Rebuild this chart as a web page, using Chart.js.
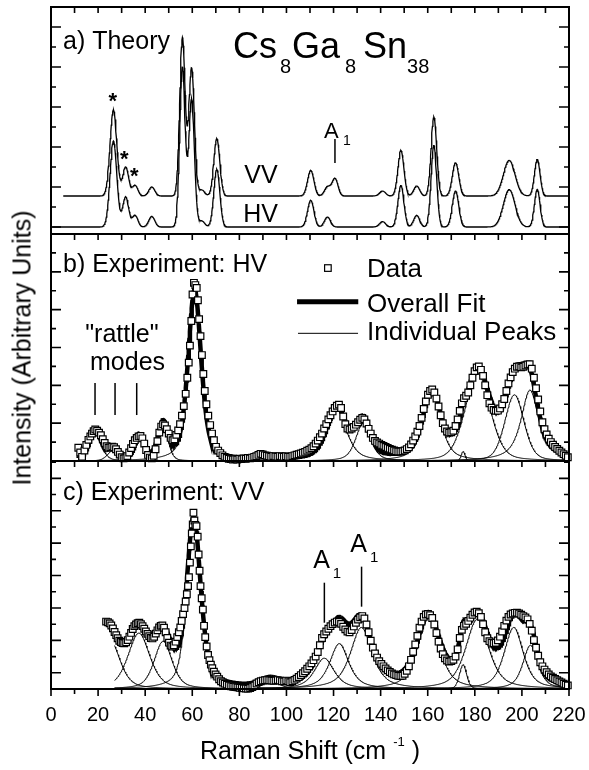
<!DOCTYPE html>
<html><head><meta charset="utf-8">
<script src="https://cdn.jsdelivr.net/npm/chart.js@4.4.1/dist/chart.umd.min.js"></script>
<style>
html,body{margin:0;padding:0;background:#fff;}
#wrap{position:relative;width:589px;height:770px;overflow:hidden;background:#fff;font-family:'Liberation Sans',Arial,Helvetica,sans-serif;}
canvas{position:absolute;left:0;}
#ytitle{position:absolute;left:22px;top:348px;transform:translate(-50%,-50%) rotate(-90deg);font-size:25px;white-space:nowrap;color:#000;line-height:1;}
</style></head><body>
<div id="wrap">
<canvas id="ca" width="589" height="244" style="top:0px;width:589px;height:244px"></canvas>
<canvas id="cb" width="589" height="247" style="top:224px;width:589px;height:247px"></canvas>
<canvas id="cc" width="589" height="319" style="top:451px;width:589px;height:319px"></canvas>
<div id="ytitle">Intensity (Arbitrary Units)</div>
</div>
<script>
// ---------------- DATA ----------------
const xTickValues = [0,20,40,60,80,100,120,140,160,180,200,220];

// a) Theory: calculated mode positions (cm-1) and relative heights
const theoryCenter    = [26.5, 31.7, 35.7, 42.8, 55.8, 59.7, 64.0, 70.4, 110.3, 117.4, 120.6, 140.8, 148.6, 155.3, 162.6, 171.8, 194.6, 206.5];
const theoryHeightVV  = [4.3, 1.45, 0.53, 0.45, 7.9, 6.4, 0.3, 2.87, 1.28, 0.45, 0.87, 0.25, 2.28, 0.5, 3.95, 1.67, 1.78, 1.83];
const theoryHeightHV  = [4.3, 1.5, 0.58, 0.53, 8.0, 6.4, 0.3, 2.9, 1.33, 0.5, 0.0, 0.27, 2.08, 0.58, 4.08, 1.8, 1.87, 1.88];
const theoryHalfWidth = [1.7, 1.5, 1.4, 1.5, 1.35, 1.4, 1.5, 1.5, 1.6, 1.5, 1.5, 1.5, 1.5, 1.5, 1.4, 1.6, 2.9, 1.4];
const theoryOffsetVV  = 1.55;

// b) Experiment HV: measured data
const shiftHV = [
 11.6,12.4,13.2,14.2,15.0,15.9,16.7,17.4,18.1,18.8,
 19.6,20.4,21.2,22.0,22.8,23.6,24.4,25.2,26.0,26.8,
 27.6,28.4,29.2,30.0,30.8,31.6,32.4,33.2,34.0,34.8,
 35.6,36.4,37.2,38.0,38.8,39.6,40.4,41.2,42.0,42.8,
 43.6,44.4,45.2,46.0,46.8,47.6,48.4,49.2,50.0,50.8,
 51.6,52.4,53.2,54.0,54.8,55.6,56.4,57.2,57.9,58.5,
 59.0,59.6,60.1,60.7,61.3,61.9,62.4,62.9,63.5,64.1,
 64.7,65.3,66.0,66.8,67.6,68.4,69.2,70.1,71.0,71.9,
 72.8,73.7,74.6,75.5,76.4,77.3,78.2,79.1,80.0,80.9,
 81.8,82.7,83.6,84.5,85.4,86.3,87.2,88.1,89.0,89.9,
 90.8,91.7,92.6,93.5,94.4,95.3,96.2,97.1,98.0,98.9,
 99.8,100.7,101.6,102.5,103.4,104.3,105.2,106.1,107.0,107.9,
 108.8,109.7,110.6,111.5,112.4,113.3,114.2,115.1,116.0,116.9,
 117.8,118.7,119.6,120.5,121.4,122.3,123.2,124.1,125.0,125.9,
 126.8,127.7,128.6,129.5,130.4,131.3,132.2,133.1,134.0,134.9,
 135.8,136.7,137.6,138.5,139.4,140.3,141.2,142.1,143.0,143.9,
 144.8,145.7,146.6,147.5,148.4,149.3,150.2,151.1,152.0,152.9,
 153.8,154.7,155.6,156.5,157.4,158.3,159.2,160.1,161.0,161.9,
 162.8,163.7,164.6,165.5,166.4,167.3,168.2,169.1,170.0,170.9,
 171.8,172.7,173.6,174.5,175.4,176.3,177.2,178.1,179.0,179.9,
 180.8,181.7,182.6,183.5,184.4,185.3,186.2,187.1,188.0,188.9,
 189.8,190.7,191.6,192.5,193.4,194.3,195.2,196.1,197.0,197.9,
 198.8,199.7,200.6,201.5,202.4,203.3,204.2,205.1,206.0,206.9,
 207.8,208.7,209.6,210.5,211.4,212.3,213.2,214.1,215.0,215.9,
 216.8,217.7,218.6,219.5];
const intensityHV = [
 0.70,0.45,0.22,0.55,0.85,1.12,1.30,1.45,1.58,1.67,
 1.60,1.50,1.36,1.15,0.95,0.78,0.70,0.72,0.76,0.73,
 0.62,0.48,0.34,0.20,0.14,0.15,0.26,0.45,0.68,0.90,
 1.10,1.22,1.30,1.32,1.20,0.92,0.58,0.32,0.18,0.14,
 0.28,0.62,1.05,1.50,1.82,1.94,1.88,1.68,1.45,1.22,
 1.10,1.15,1.38,1.62,1.95,2.40,2.90,3.55,4.40,5.20,
 6.10,7.40,8.80,9.42,9.30,9.15,8.50,7.50,6.60,5.60,
 4.60,3.70,3.00,2.40,1.90,1.45,1.10,0.75,0.55,0.42,
 0.30,0.22,0.16,0.12,0.10,0.08,0.10,0.08,0.12,0.10,
 0.14,0.12,0.16,0.14,0.18,0.22,0.25,0.32,0.38,0.35,
 0.30,0.28,0.25,0.22,0.26,0.24,0.22,0.26,0.24,0.22,
 0.25,0.22,0.22,0.26,0.30,0.33,0.36,0.40,0.44,0.48,
 0.54,0.60,0.68,0.78,0.92,1.08,1.26,1.45,1.72,1.95,
 2.20,2.42,2.62,2.80,2.92,2.98,2.80,2.35,1.95,1.72,
 1.66,1.72,1.80,1.92,2.05,2.18,2.28,2.20,1.98,1.70,
 1.45,1.22,1.06,0.98,0.92,0.85,0.80,0.74,0.69,0.64,
 0.60,0.56,0.52,0.50,0.50,0.52,0.56,0.63,0.72,0.88,
 1.08,1.30,1.55,1.85,2.28,2.75,3.15,3.50,3.70,3.78,
 3.62,3.30,2.88,2.42,2.00,1.72,1.56,1.50,1.52,1.60,
 1.85,2.20,2.65,3.05,3.32,3.45,3.62,4.00,4.40,4.75,
 4.95,5.00,4.82,4.50,4.00,3.48,3.05,2.82,2.70,2.65,
 2.66,2.78,3.00,3.28,3.70,4.10,4.42,4.70,4.88,4.98,
 5.00,4.95,4.98,5.05,5.10,5.12,4.88,4.40,3.85,3.25,
 2.62,2.05,1.68,1.40,1.18,1.00,0.86,0.74,0.64,0.54,
 0.45,0.36,0.28,0.20];
// b) fitted peaks (center, height, half width, Lorentzian fraction)
const peakCenterHV    = [18.7, 26.7, 37.7, 47.6, 61.0, 89.5, 121.3, 132.6, 161.7, 175.0, 181.2, 196.8, 203.4];
const peakHeightHV    = [1.55, 0.6, 1.25, 1.85, 9.0, 0.22, 2.7, 2.0, 3.55, 0.5, 4.6, 3.5, 3.75];
const peakHalfWidthHV = [3.0, 3.0, 2.4, 2.5, 3.3, 3.0, 5.0, 3.8, 4.6, 1.0, 6.3, 4.8, 4.5];
const peakLorentzHV   = [0.4, 0.3, 0.3, 0.3, 0.5, 0.3, 0.6, 0.5, 0.6, 0.0, 0.3, 0.3, 0.8];
const fitRangeHV = [11.5, 220];

// c) Experiment VV: measured data
const shiftVV = [
 23.4,24.2,24.9,25.6,26.3,27.0,27.7,28.3,29.0,29.7,
 30.4,31.1,31.9,32.6,33.3,34.0,34.7,35.4,36.1,36.8,
 37.5,38.2,38.9,39.6,40.3,41.0,41.7,42.4,43.1,43.8,
 44.5,45.2,45.9,46.6,47.3,48.0,48.7,49.4,50.1,50.8,
 51.5,52.2,52.9,53.6,54.3,54.9,55.5,56.1,56.7,57.2,
 57.7,58.2,58.6,59.0,59.4,59.8,60.2,60.5,60.9,61.3,
 61.8,62.3,62.7,63.1,63.5,64.0,64.5,65.0,65.5,66.1,
 66.7,67.3,67.9,68.5,69.2,69.9,70.6,71.4,72.2,73.0,
 73.8,74.7,75.6,76.5,77.4,78.3,79.2,80.1,81.0,81.9,
 82.8,83.7,84.6,85.5,86.4,87.3,88.2,89.1,90.0,90.9,
 91.8,92.7,93.6,94.5,95.4,96.3,97.2,98.1,99.0,99.9,
 100.8,101.6,102.5,103.4,104.3,105.2,106.1,107.0,107.9,108.8,
 109.7,110.6,111.5,112.4,113.3,114.2,115.1,116.0,116.9,117.8,
 118.7,119.6,120.5,121.4,122.3,123.2,124.1,125.0,125.9,126.8,
 127.7,128.6,129.5,130.4,131.3,132.2,133.1,134.0,134.9,135.8,
 136.7,137.6,138.5,139.4,140.3,141.2,142.1,143.0,143.9,144.8,
 145.7,146.6,147.5,148.4,149.3,150.2,151.1,152.0,152.9,153.8,
 154.7,155.6,156.5,157.4,158.3,159.2,160.1,161.0,161.9,162.8,
 163.7,164.6,165.5,166.4,167.3,168.2,169.1,170.0,170.9,171.8,
 172.7,173.6,174.5,175.4,176.3,177.2,178.1,179.0,179.9,180.8,
 181.7,182.6,183.5,184.4,185.3,186.2,187.1,188.0,188.9,189.8,
 190.7,191.6,192.5,193.4,194.3,195.2,196.1,197.0,197.9,198.8,
 199.7,200.6,201.5,202.4,203.3,204.2,205.1,206.0,206.9,207.8,
 208.7,209.6,210.5,211.4,212.3,213.2,214.1,215.0,215.9,216.8,
 217.7,218.6,219.5];
const intensityVV = [
 4.16,4.12,4.05,3.92,3.74,3.52,3.32,3.13,2.98,2.90,
 2.84,2.82,2.88,3.02,3.23,3.46,3.70,3.88,3.98,4.06,
 4.09,4.00,3.88,3.72,3.55,3.40,3.26,3.15,3.12,3.22,
 3.42,3.62,3.80,3.90,3.92,3.78,3.50,3.15,2.86,2.68,
 2.62,2.70,2.92,3.20,3.50,3.80,4.20,4.62,5.00,5.40,
 5.85,6.35,6.90,7.80,8.80,9.60,10.15,10.88,10.40,10.12,
 10.05,9.40,8.30,7.30,6.35,5.60,4.90,3.90,3.20,2.62,
 2.10,1.78,1.50,1.28,1.07,0.90,0.76,0.60,0.48,0.40,
 0.33,0.27,0.22,0.17,0.14,0.12,0.10,0.08,0.06,0.04,
 0.03,0.02,0.06,0.12,0.22,0.34,0.42,0.48,0.52,0.54,
 0.55,0.54,0.52,0.51,0.53,0.55,0.52,0.48,0.47,0.52,
 0.48,0.42,0.48,0.56,0.64,0.74,0.86,0.98,1.10,1.25,
 1.40,1.58,1.78,2.00,2.28,2.70,3.15,3.38,3.55,3.72,
 3.88,4.00,4.10,4.16,4.14,4.02,3.84,3.68,3.54,3.50,
 3.64,3.86,4.08,4.28,4.42,4.50,4.35,3.98,3.50,2.98,
 2.55,2.20,1.94,1.72,1.55,1.40,1.27,1.15,1.05,0.96,
 0.90,0.86,0.82,0.80,0.82,0.94,1.12,1.40,1.80,2.30,
 2.75,3.28,3.78,4.16,4.45,4.60,4.63,4.56,4.38,3.98,
 3.45,2.92,2.50,2.15,1.89,1.76,1.69,1.72,1.80,2.00,
 2.45,3.15,3.65,3.90,4.02,4.20,4.40,4.58,4.72,4.77,
 4.68,4.45,4.00,3.50,3.13,2.95,2.86,2.82,2.86,3.00,
 3.23,3.55,3.90,4.22,4.45,4.60,4.66,4.70,4.71,4.66,
 4.58,4.50,4.42,4.30,4.02,3.60,3.02,2.55,2.05,1.65,
 1.40,1.20,1.04,0.90,0.78,0.70,0.62,0.54,0.46,0.40,
 0.33,0.27,0.22];
const peakCenterVV    = [25.0, 37.3, 47.6, 60.6, 93.0, 116.0, 122.4, 131.8, 160.3, 175.0, 181.0, 196.5, 203.6];
const peakHeightVV    = [3.05, 3.45, 2.95, 10.3, 0.45, 1.9, 2.8, 3.8, 4.35, 1.5, 4.3, 3.8, 2.7];
const peakHalfWidthVV = [5.0, 5.5, 4.5, 3.5, 5.0, 5.0, 4.8, 5.5, 5.6, 1.8, 5.8, 4.8, 3.8];
const peakLorentzVV   = [0.5, 0.5, 0.5, 0.5, 0.0, 0.7, 0.7, 0.7, 0.6, 0.3, 0.6, 0.6, 0.6];
const fitRangeVV = [27, 220];

// ---------------- HELPERS ----------------
const FONT = "'Liberation Sans', Arial, Helvetica, sans-serif";
function pv(x, c, a, h, eta) {
  const r2 = ((x - c) / h) ** 2;
  return a * (eta / (1 + r2) + (1 - eta) * Math.exp(-Math.LN2 * r2));
}
function sampled(from, to, step, fn) {
  const pts = [];
  const n = Math.round((to - from) / step);
  for (let i = 0; i <= n; i++) { const x = from + i * step; pts.push({x: x, y: fn(x)}); }
  return pts;
}
function pairs(xs, ys) { return xs.map((x, i) => ({x: x, y: ys[i]})); }
function theorySum(x, heights) {
  let s = 0;
  for (let i = 0; i < theoryCenter.length; i++) s += pv(x, theoryCenter[i], heights[i], theoryHalfWidth[i], 0);
  return s;
}
function fitSum(x, C, A, W, E) {
  let s = 0;
  for (let i = 0; i < C.length; i++) s += pv(x, C[i], A[i], W[i], E[i]);
  return s;
}
function lineDS(data, width) {
  return {data: data, showLine: true, borderColor: '#000', borderWidth: width, pointRadius: 0, pointHoverRadius: 0, fill: false, tension: 0};
}
function dataDS(data) {
  return {data: data, showLine: false, pointStyle: 'rect', pointRadius: 4.7, pointHoverRadius: 4.7,
    pointBackgroundColor: '#fff', pointBorderColor: '#000', pointBorderWidth: 1.2, clip: false};
}
function panelDatasets(xs, ys, C, A, W, E, range) {
  const ds = [dataDS(pairs(xs, ys))];
  ds.push(lineDS(sampled(range[0], range[1], 0.25, x => fitSum(x, C, A, W, E)), 4.5));
  for (let i = 0; i < C.length; i++) {
    ds.push(lineDS(sampled(range[0], range[1], 0.25, x => pv(x, C[i], A[i], W[i], E[i])), 1));
  }
  return ds;
}
function baseOptions(ymin, ymax, pad, xScale) {
  return {
    responsive: false, animation: false, devicePixelRatio: 1, events: [],
    layout: {padding: pad},
    plugins: {legend: {display: false}, tooltip: {enabled: false}},
    scales: {
      x: xScale || {type: 'linear', min: 0, max: 220, display: false},
      y: {type: 'linear', min: ymin, max: ymax, display: false}
    }
  };
}
function txt(ctx, s, px, py, size, align, weight) {
  ctx.font = (weight || 'normal') + ' ' + size + 'px ' + FONT;
  ctx.textAlign = align || 'left';
  ctx.textBaseline = 'alphabetic';
  ctx.fillStyle = '#000';
  ctx.fillText(s, px, py);
}
function vline(ctx, px, y1, y2, w) {
  ctx.beginPath(); ctx.lineWidth = w || 1.5; ctx.strokeStyle = '#000';
  ctx.moveTo(px, y1); ctx.lineTo(px, y2); ctx.stroke();
}
function framePlugin(id, parity, bottomOut) {
  return {
    id: id,
    afterDraw(chart) {
      const {ctx, chartArea: a, scales: {x, y}} = chart;
      ctx.save();
      ctx.strokeStyle = '#000';
      ctx.lineWidth = 1.6;
      ctx.beginPath();
      for (let v = 10; v < 220; v += 10) {
        const px = x.getPixelForValue(v);
        ctx.moveTo(px, a.top); ctx.lineTo(px, a.top + 6);
      }
      if (bottomOut) {
        for (let v = 0; v <= 220; v += 10) {
          const px = x.getPixelForValue(v);
          ctx.moveTo(px, a.bottom); ctx.lineTo(px, a.bottom + (v % 20 === 0 ? 7 : 5));
        }
      }
      for (let v = Math.ceil(y.min); v < y.max; v++) {
        if (v <= y.min + 0.05) continue;
        const py = y.getPixelForValue(v);
        const major = (((v - parity) % 2) + 2) % 2 === 0;
        const len = major ? 10 : 5;
        ctx.moveTo(a.left, py); ctx.lineTo(a.left + len, py);
        ctx.moveTo(a.right, py); ctx.lineTo(a.right - len, py);
      }
      ctx.stroke();
      ctx.lineWidth = 2;
      ctx.strokeRect(a.left, a.top, a.right - a.left, a.bottom - a.top);
      ctx.restore();
    }
  };
}

// ---------------- PANEL A ----------------
const annA = {
  id: 'annA',
  afterDraw(chart) {
    const {ctx, scales: {x, y}} = chart;
    ctx.save();
    txt(ctx, 'a) Theory', x.getPixelForValue(5.1), y.getPixelForValue(8.9), 25);
    const fx = x.getPixelForValue(77.3), fy = y.getPixelForValue(8.45);
    const parts = [['Cs', 36, 0, 0], ['8', 20, 47, 15], ['Ga', 36, 59, 0], ['8', 20, 112, 15], ['Sn', 36, 130, 0], ['38', 20, 174, 15]];
    parts.forEach(p => txt(ctx, p[0], fx + p[2], fy + p[3], p[1]));
    [[26.2, 5.95], [31.1, 3.05], [35.4, 2.2]].forEach(s => txt(ctx, '*', x.getPixelForValue(s[0]), y.getPixelForValue(s[1]), 22, 'center', 'bold'));
    txt(ctx, 'VV', x.getPixelForValue(89.2), y.getPixelForValue(2.2), 25, 'center');
    txt(ctx, 'HV', x.getPixelForValue(89.0), y.getPixelForValue(0.25), 25, 'center');
    txt(ctx, 'A', x.getPixelForValue(119.1), y.getPixelForValue(4.45), 22, 'center');
    txt(ctx, '1', x.getPixelForValue(124.0), y.getPixelForValue(4.1), 14, 'left');
    vline(ctx, x.getPixelForValue(120.6), y.getPixelForValue(4.4), y.getPixelForValue(3.2), 1.5);
    ctx.restore();
  }
};
new Chart(document.getElementById('ca'), {
  type: 'scatter',
  data: {datasets: [
    lineDS(sampled(5.2, 220, 0.2, x => theoryOffsetVV + theorySum(x, theoryHeightVV)), 1.3),
    lineDS(sampled(0.5, 220, 0.2, x => theorySum(x, theoryHeightHV)), 1.3)
  ]},
  options: baseOptions(-0.35, 11, {left: 51, right: 20, top: 7, bottom: 10}),
  plugins: [framePlugin('frameA', 0, false), annA]
});

// ---------------- PANEL B ----------------
const annB = {
  id: 'annB',
  afterDraw(chart) {
    const {ctx, scales: {x, y}} = chart;
    ctx.save();
    txt(ctx, 'b) Experiment: HV', x.getPixelForValue(5.1), y.getPixelForValue(10.0), 25);
    txt(ctx, '"rattle"', x.getPixelForValue(30.1), y.getPixelForValue(6.3), 25, 'center');
    txt(ctx, 'modes', x.getPixelForValue(32.5), y.getPixelForValue(4.81), 25, 'center');
    [18.7, 27.2, 36.4].forEach(v => vline(ctx, x.getPixelForValue(v), y.getPixelForValue(4.12), y.getPixelForValue(2.43), 1.5));
    // legend
    const tx = x.getPixelForValue(134.2);
    const sx = x.getPixelForValue(117.6), sy = y.getPixelForValue(10.2);
    ctx.fillStyle = '#fff'; ctx.strokeStyle = '#000'; ctx.lineWidth = 1.2;
    ctx.fillRect(sx - 3.3, sy - 3.3, 6.6, 6.6); ctx.strokeRect(sx - 3.3, sy - 3.3, 6.6, 6.6);
    txt(ctx, 'Data', tx, y.getPixelForValue(9.75), 26);
    ctx.beginPath(); ctx.lineWidth = 5; ctx.strokeStyle = '#000';
    ctx.moveTo(x.getPixelForValue(104.5), y.getPixelForValue(8.42)); ctx.lineTo(x.getPixelForValue(130.5), y.getPixelForValue(8.42)); ctx.stroke();
    txt(ctx, 'Overall Fit', tx, y.getPixelForValue(7.89), 26);
    ctx.beginPath(); ctx.lineWidth = 1; 
    ctx.moveTo(x.getPixelForValue(104.9), y.getPixelForValue(6.75)); ctx.lineTo(x.getPixelForValue(130.4), y.getPixelForValue(6.75)); ctx.stroke();
    txt(ctx, 'Individual Peaks', tx, y.getPixelForValue(6.4), 26);
    ctx.restore();
  }
};
new Chart(document.getElementById('cb'), {
  type: 'scatter',
  data: {datasets: panelDatasets(shiftHV, intensityHV, peakCenterHV, peakHeightHV, peakHalfWidthHV, peakLorentzHV, fitRangeHV)},
  options: baseOptions(0, 12, {left: 51, right: 20, top: 10, bottom: 10}),
  plugins: [framePlugin('frameB', 0, false), annB]
});

// ---------------- PANEL C ----------------
const annC = {
  id: 'annC',
  afterDraw(chart) {
    const {ctx, chartArea: a, scales: {x, y}} = chart;
    ctx.save();
    txt(ctx, 'c) Experiment: VV', x.getPixelForValue(5.1), y.getPixelForValue(11.67), 25);
    txt(ctx, 'A', x.getPixelForValue(114.9), y.getPixelForValue(7.47), 25, 'center');
    txt(ctx, '1', x.getPixelForValue(119.7), y.getPixelForValue(6.85), 15, 'left');
    vline(ctx, x.getPixelForValue(116.1), y.getPixelForValue(6.56), y.getPixelForValue(4.09), 1.5);
    txt(ctx, 'A', x.getPixelForValue(130.6), y.getPixelForValue(8.46), 25, 'center');
    txt(ctx, '1', x.getPixelForValue(135.5), y.getPixelForValue(7.84), 15, 'left');
    vline(ctx, x.getPixelForValue(131.9), y.getPixelForValue(7.55), y.getPixelForValue(5.08), 1.5);
    // x axis title with superscript
    const cx = (a.left + a.right) / 2, by = a.bottom + 70;
    ctx.font = '25px ' + FONT; const w1 = ctx.measureText('Raman Shift (cm ').width;
    ctx.font = '13px ' + FONT; const w2 = ctx.measureText('-1').width;
    ctx.font = '25px ' + FONT; const w3 = ctx.measureText(' )').width;
    const sx = cx - (w1 + w2 + w3) / 2;
    txt(ctx, 'Raman Shift (cm ', sx, by, 25);
    txt(ctx, '-1', sx + w1, by - 13, 13);
    txt(ctx, ' )', sx + w1 + w2, by, 25);
    ctx.restore();
  }
};
new Chart(document.getElementById('cc'), {
  type: 'scatter',
  data: {datasets: panelDatasets(shiftVV, intensityVV, peakCenterVV, peakHeightVV, peakHalfWidthVV, peakLorentzVV, fitRangeVV)},
  options: baseOptions(0, 14.07, {left: 51, right: 20, top: 10, bottom: 0}, {
    type: 'linear', min: 0, max: 220, position: 'bottom', display: true,
    afterBuildTicks: s => { s.ticks = xTickValues.map(v => ({value: v})); },
    afterFit: s => { s.height = 81; s.paddingLeft = 0; s.paddingRight = 0; },
    ticks: {font: {family: FONT, size: 20}, color: '#000', padding: 14, maxRotation: 0, minRotation: 0, autoSkip: false},
    grid: {display: false, drawTicks: false},
    border: {display: false}
  }),
  plugins: [framePlugin('frameC', 1, true), annC]
});
</script>
</body></html>
